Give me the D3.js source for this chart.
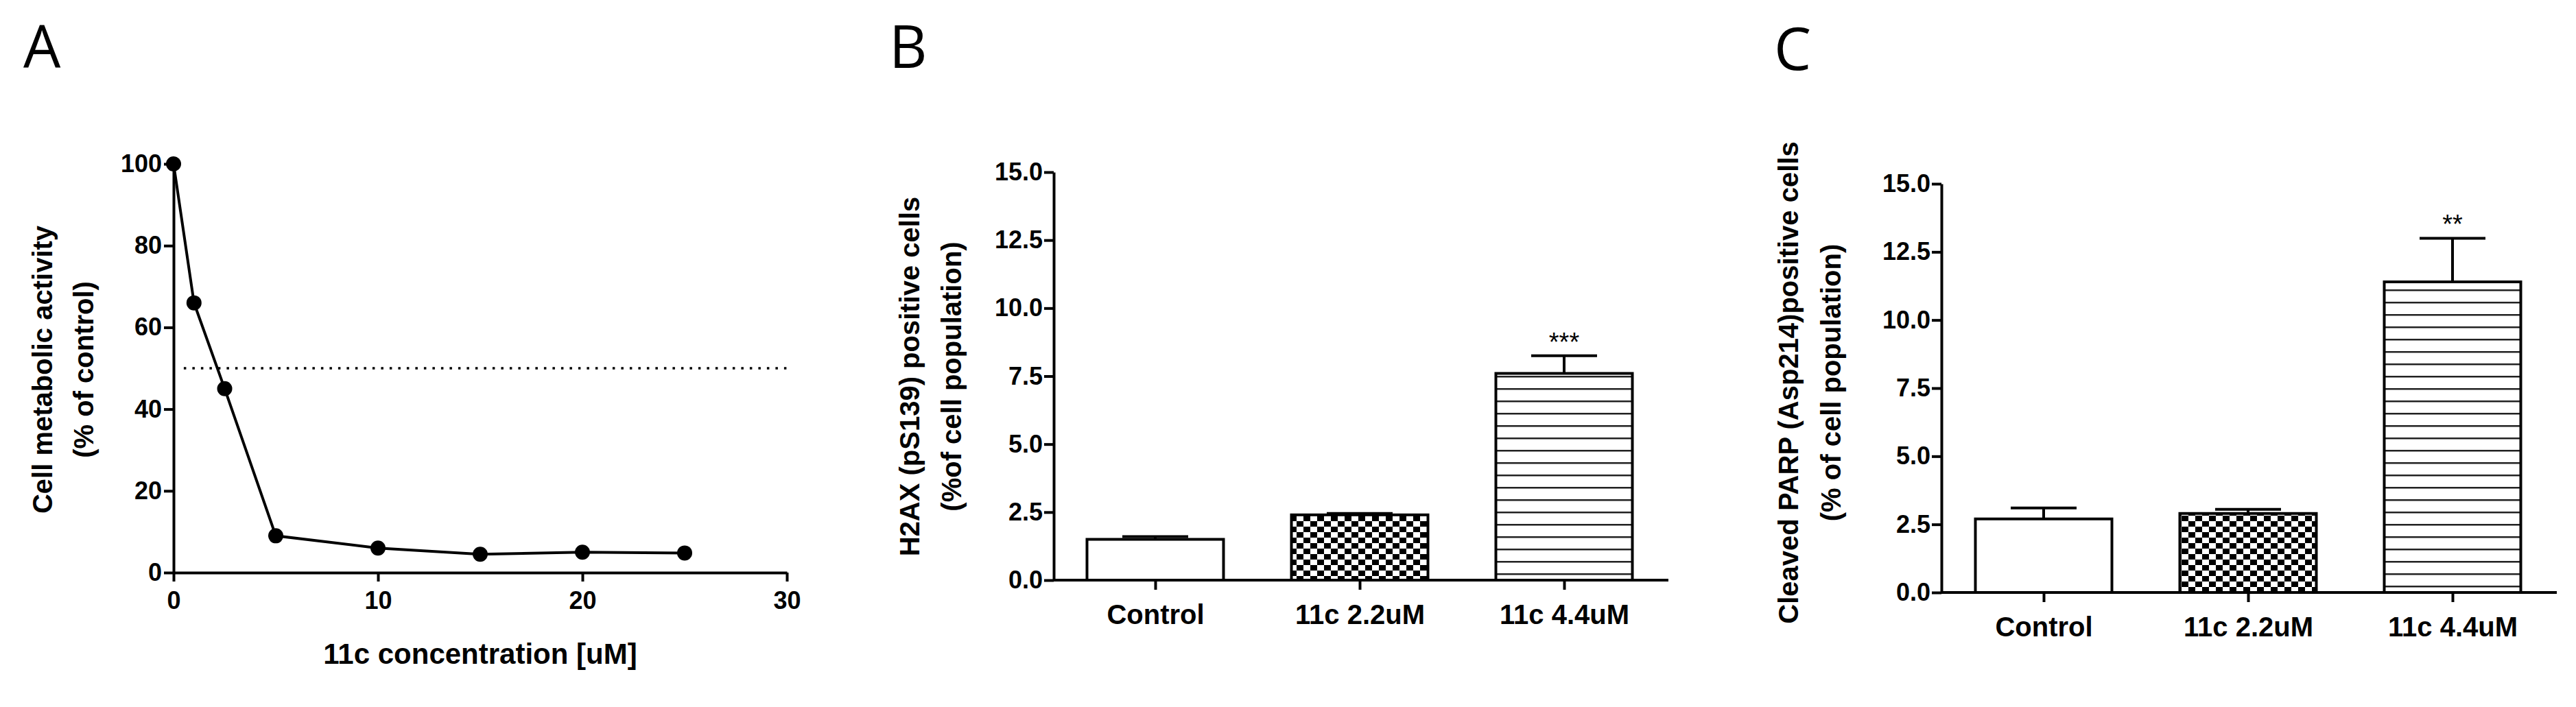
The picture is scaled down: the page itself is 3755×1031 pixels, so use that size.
<!DOCTYPE html>
<html><head><meta charset="utf-8">
<script src="https://cdn.jsdelivr.net/npm/d3@7"></script>
<style>body{margin:0;background:#fff}svg{display:block}</style></head>
<body><script>
const concX=[0,1,2.5,5,10,15,20,25];
const activityY=[100,66,45,9,6,4.5,5,4.8];
const xTicksA=[0,10,20,30], yTicksA=[0,20,40,60,80,100];
const cats=["Control","11c 2.2uM","11c 4.4uM"];
const h2axVals=[1.5,2.4,7.6], h2axErr=[0.1,0.05,0.65];
const parpVals=[2.7,2.9,11.4], parpErr=[0.4,0.15,1.6];
const barTicks=[0,2.5,5,7.5,10,12.5,15];
const stars=["","","***"], starsC=["","","**"];

const W=3755,H=1031;
const svg=d3.select("body").append("svg").attr("width",W).attr("height",H);
const font="'Liberation Sans', Arial, sans-serif";
const defs=svg.append("defs");
const chk=defs.append("pattern").attr("id","chk").attr("patternUnits","userSpaceOnUse").attr("width",20).attr("height",16);
chk.append("rect").attr("width",20).attr("height",16).attr("fill","#fff");
chk.append("rect").attr("width",10).attr("height",8).attr("fill","#000");
chk.append("rect").attr("x",10).attr("y",8).attr("width",10).attr("height",8).attr("fill","#000");
const hs=defs.append("pattern").attr("id","hs").attr("patternUnits","userSpaceOnUse").attr("width",20).attr("height",18);
hs.append("rect").attr("width",20).attr("height",18).attr("fill","#fff");
hs.append("rect").attr("y",8).attr("width",20).attr("height",2.5).attr("fill","#222");

function styleAxis(g,fs){
  g.selectAll("path,line").attr("stroke","#000").attr("stroke-width",4);
  g.selectAll("text").attr("font-family",font).attr("font-weight","bold").attr("font-size",fs||36).attr("fill","#000");
}
function letter(t,x,y){svg.append("text").attr("x",x).attr("y",y).text(t).attr("font-family","'Open Sans',sans-serif").attr("font-size",86).attr("fill","#000");}
function ytitle(lines,xs,cy){
  lines.forEach((l,i)=>svg.append("text").attr("transform",`translate(${xs[i]},${cy}) rotate(-90)`).attr("text-anchor","middle")
   .attr("font-family",font).attr("font-weight","bold").attr("font-size",40).text(l));
}

// Panel A
letter("A",34,99);
const xA=d3.scaleLinear().domain([0,30]).range([253,1147]);
const yA=d3.scaleLinear().domain([0,100]).range([835,239]);
const gxA=svg.append("g").attr("transform","translate(0,835)").call(d3.axisBottom(xA).tickValues(xTicksA).tickSize(13).tickSizeOuter(0).tickPadding(14));
styleAxis(gxA);
const gyA=svg.append("g").attr("transform","translate(253,0)").call(d3.axisLeft(yA).tickValues(yTicksA).tickSize(14).tickSizeOuter(0).tickPadding(3));
styleAxis(gyA);
svg.append("line").attr("x1",xA(0.5)).attr("x2",xA(30)).attr("y1",yA(50)).attr("y2",yA(50))
  .attr("stroke","#000").attr("stroke-width",3.5).attr("stroke-dasharray","3.5,9");
const pts=concX.map((x,i)=>[x,activityY[i]]);
svg.append("path").attr("d",d3.line().x(d=>xA(d[0])).y(d=>yA(d[1]))(pts)).attr("fill","none").attr("stroke","#000").attr("stroke-width",4);
svg.selectAll(".pt").data(pts).enter().append("circle").attr("cx",d=>xA(d[0])).attr("cy",d=>yA(d[1])).attr("r",11).attr("fill","#000");
svg.append("text").attr("x",(xA(0)+xA(30))/2).attr("y",968).attr("text-anchor","middle").attr("font-family",font).attr("font-weight","bold").attr("font-size",42).text("11c concentration [uM]");
ytitle(["Cell metabolic activity","(% of control)"],[76,136],539);

// bar panels
function barPanel(o){
  letter(o.L,o.lx,o.ly);
  const y=d3.scaleLinear().domain([0,15]).range([o.yb,o.yt]);
  const bw=o.bw;
  const xs=d3.scalePoint().domain(cats).range([o.c0,o.c0+2*o.step]);
  const gx=svg.append("g").attr("transform",`translate(0,${o.yb})`).call(d3.axisBottom(xs).tickSize(14).tickPadding(22));
  gx.select(".domain").remove();
  styleAxis(gx,40);
  svg.append("line").attr("x1",o.x0).attr("x2",o.x1).attr("y1",o.yb).attr("y2",o.yb).attr("stroke","#000").attr("stroke-width",4);
  const gy=svg.append("g").attr("transform",`translate(${o.x0},0)`).call(d3.axisLeft(y).tickValues(barTicks).tickFormat(d3.format(".1f")).tickSize(14).tickSizeOuter(0).tickPadding(2));
  styleAxis(gy);
  const fills=["#fff","url(#chk)","url(#hs)"];
  cats.forEach((c,i)=>{
    const cx=xs(c), v=o.vals[i], e=o.err[i];
    svg.append("line").attr("x1",cx).attr("x2",cx).attr("y1",y(v)).attr("y2",y(v+e)).attr("stroke","#000").attr("stroke-width",4);
    svg.append("line").attr("x1",cx-48).attr("x2",cx+48).attr("y1",y(v+e)).attr("y2",y(v+e)).attr("stroke","#000").attr("stroke-width",4);
    svg.append("rect").attr("x",cx-bw/2).attr("y",y(v)).attr("width",bw).attr("height",y(0)-y(v)).attr("fill",fills[i]).attr("stroke","#000").attr("stroke-width",4);
    if(o.stars[i]) svg.append("text").attr("x",cx).attr("y",o.sy).attr("text-anchor","middle").attr("font-family",font).attr("font-size",38).text(o.stars[i]);
  });
  ytitle(o.title,o.tx,o.ty);
}
barPanel({L:"B",lx:1296,ly:99,x0:1536,x1:2432,yb:846,yt:251,bw:199,c0:1684,step:298,vals:h2axVals,err:h2axErr,stars:stars,sy:512,
  title:["H2AX (pS139) positive cells","(%of cell population)"],tx:[1340,1401],ty:549});
barPanel({L:"C",lx:2586,ly:102,x0:2830,x1:3727,yb:864,yt:268,bw:199,c0:2979,step:298,vals:parpVals,err:parpErr,stars:starsC,sy:340,
  title:["Cleaved PARP (Asp214)positive cells","(% of cell population)"],tx:[2621,2683],ty:558});
</script></body></html>
